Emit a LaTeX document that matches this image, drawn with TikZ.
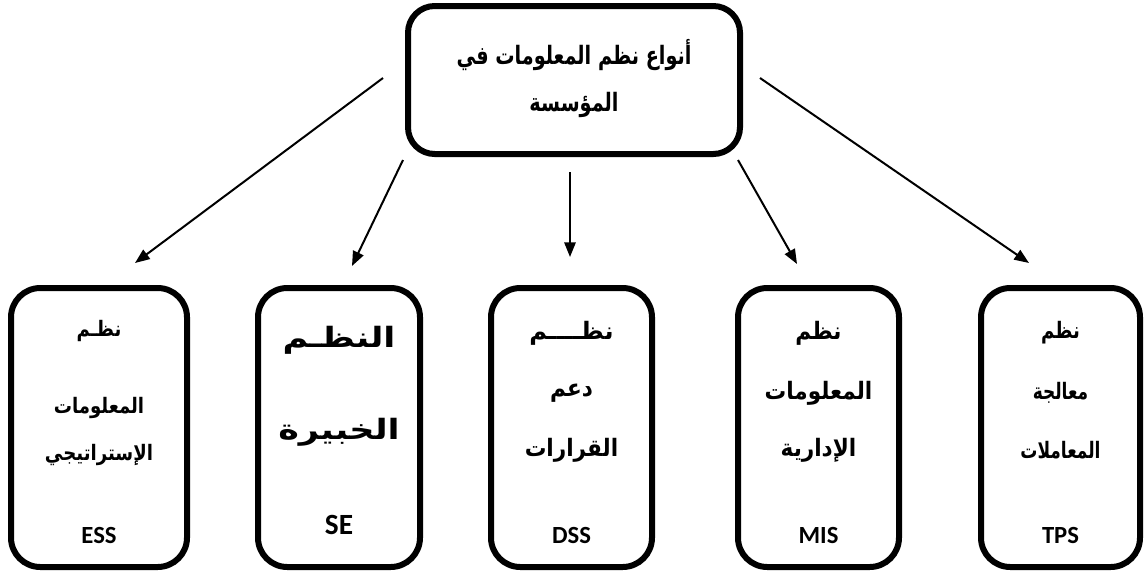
\documentclass[tikz,border=0pt]{standalone}
\usepackage{fontspec}
\usepackage{graphicx}
\usetikzlibrary{arrows.meta}
\TeXXeTstate=1
\newfontfamily\arabicfont[Script=Arabic]{DejaVu Sans}
\newfontfamily\latinfont{Carlito}
\begin{document}
\begin{tikzpicture}[x=0.75pt,y=-0.75pt,
  box/.style={draw, line width=4.5pt, rounded corners=22pt, inner sep=0pt},
  ar/.style={font=\arabicfont\bfseries\fontsize{#1}{#1}\selectfont, inner sep=0pt},
  ar/.default=13,
  lt/.style={font=\latinfont\bfseries\fontsize{#1}{#1}\selectfont, inner sep=0pt},
  lt/.default=18.5,
  arr/.style={line width=1.5pt, -{Triangle[length=11pt,width=8.5pt]}}]
\useasboundingbox (0,0) rectangle (1147,576);
% boxes
\node[box, minimum width=332*0.75pt, minimum height=148*0.75pt, rounded corners=20pt] (top) at (574,80) {};
\node[box, minimum width=176*0.75pt, minimum height=279*0.75pt] (ess) at (99,427.5) {};
\node[box, minimum width=162*0.75pt, minimum height=279*0.75pt] (se) at (339,427.5) {};
\node[box, minimum width=161*0.75pt, minimum height=279*0.75pt] (dss) at (571.5,427.5) {};
\node[box, minimum width=161*0.75pt, minimum height=279*0.75pt] (mis) at (818.5,427.5) {};
\node[box, minimum width=159*0.75pt, minimum height=279*0.75pt] (tps) at (1060.5,427.5) {};
% top text
\node[ar=19] (t1) at (574,55) {\scalebox{0.76}[1]{\beginR أنواع نظم المعلومات في\endR}};
\node[ar=19] (t2) at (574,105) {\scalebox{0.76}[1]{\beginR المؤسسة\endR}};
% ESS
\node[ar=16] (e1) at (99,331) {\scalebox{0.85}[1]{\beginR نظـم\endR}};
\node[ar=16] (e2) at (99,408) {\scalebox{0.85}[1]{\beginR المعلومات\endR}};
\node[ar=16] (e3) at (99,455) {\scalebox{0.85}[1]{\beginR الإستراتيجي\endR}};
\node[lt=18.5] (e4) at (99,535) {ESS};
% SE
\node[ar=21] (s1) at (339,340) {\scalebox{1.25}[1]{\beginR النظـم\endR}};
\node[ar=21] (s2) at (339,432) {\scalebox{1.25}[1]{\beginR الخبيرة\endR}};
\node[lt=22] (s3) at (339,525) {SE};
% DSS
\node[ar=18] (d1) at (571.5,333) {\scalebox{1.0}[1]{\beginR نظــــم\endR}};
\node[ar=18] (d2) at (571.5,393) {\scalebox{0.9}[1]{\beginR دعم\endR}};
\node[ar=18] (d3) at (571.5,450) {\scalebox{0.9}[1]{\beginR القرارات\endR}};
\node[lt] (d4) at (571.5,535) {DSS};
% MIS
\node[ar=18] (m1) at (818.5,333) {\scalebox{0.9}[1]{\beginR نظم\endR}};
\node[ar=18] (m2) at (818.5,393) {\scalebox{0.9}[1]{\beginR المعلومات\endR}};
\node[ar=18] (m3) at (818.5,450) {\scalebox{0.9}[1]{\beginR الإدارية\endR}};
\node[lt] (m4) at (818.5,535) {MIS};
% TPS
\node[ar=17] (p1) at (1060.5,333) {\scalebox{0.8}[1]{\beginR نظم\endR}};
\node[ar=17] (p2) at (1060.5,393) {\scalebox{0.75}[1]{\beginR معالجة\endR}};
\node[ar=17] (p3) at (1060.5,450) {\scalebox{0.75}[1]{\beginR المعاملات\endR}};
\node[lt] (p4) at (1060.5,535) {TPS};
% arrow endpoints
\coordinate (a1s) at (383,78);  \coordinate (a1e) at (135,263);
\coordinate (a2s) at (403,160); \coordinate (a2e) at (352,266);
\coordinate (a3s) at (570,172); \coordinate (a3e) at (570,257);
\coordinate (a4s) at (738,160); \coordinate (a4e) at (797,264);
\coordinate (a5s) at (760,78);  \coordinate (a5e) at (1029,263);
\draw[arr] (a1s) -- (a1e);
\draw[arr] (a2s) -- (a2e);
\draw[arr] (a3s) -- (a3e);
\draw[arr] (a4s) -- (a4e);
\draw[arr] (a5s) -- (a5e);
\end{tikzpicture}
\end{document}
